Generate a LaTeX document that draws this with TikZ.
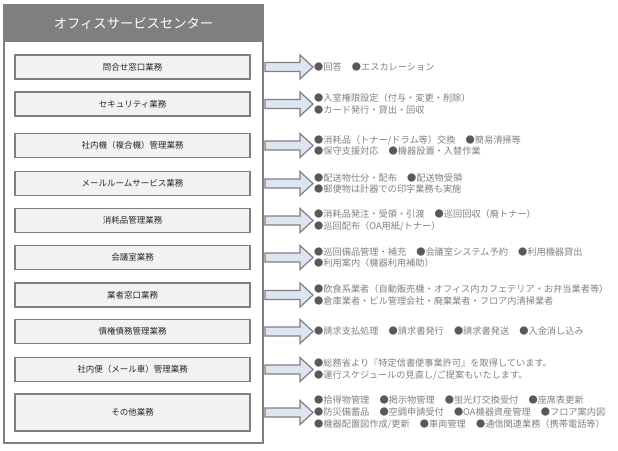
\documentclass[tikz,border=0pt]{standalone}
\usepackage{fontspec}
\setmainfont{Noto Sans CJK JP}

\definecolor{framegray}{HTML}{7F7F7F}
\definecolor{boxfill}{HTML}{F2F2F2}
\definecolor{arrowfill}{HTML}{DCE6F2}
\definecolor{textgray}{HTML}{808080}
\definecolor{dotgray}{HTML}{595959}
\newcommand{\bul}{{\color{dotgray}●}}
\newcommand{\gap}{\hspace{1.1em}}

\begin{document}
\begin{tikzpicture}[x=1pt, y=-1pt,
    task/.style={draw=framegray, line width=1.6pt, fill=boxfill, minimum width=235pt, minimum height=24pt, inner sep=0pt, font=\fontsize{8.5}{10}\selectfont, text=black!85},
    detail/.style={anchor=west, align=left, inner sep=0pt, font=\fontsize{9.2}{11.7}\selectfont, text=textgray},
    blockarrow/.style={draw=framegray, line width=1.2pt, fill=arrowfill}]
    \useasboundingbox (0,0) rectangle (618,450);

    \filldraw[draw=framegray, line width=1.5pt, fill=white] (4,5) rectangle (263,443);
    \fill[framegray] (4,5) rectangle (263,42);
    \node[text=white, font=\fontsize{13.3}{15}\selectfont] (title) at (133.5,23.5) {オフィスサービスセンター};

    \node[task] (b1) at (132.5,67) {問合せ窓口業務};
    \node[task] (b2) at (132.5,104) {セキュリティ業務};
    \node[task] (b3) at (132.5,145.5) {社内機（複合機）管理業務};
    \node[task] (b4) at (132.5,183.5) {メールルームサービス業務};
    \node[task] (b5) at (132.5,220.5) {消耗品管理業務};
    \node[task] (b6) at (132.5,257.5) {会議室業務};
    \node[task] (b7) at (132.5,295) {業者窓口業務};
    \node[task] (b8) at (132.5,331.5) {債権債務管理業務};
    \node[task] (b9) at (132.5,369.5) {社内便（メール車）管理業務};
    \node[task, minimum height=37pt] (b10) at (132.5,412.5) {その他業務};

    \node[detail] (d1) at (314,67) {\bul 回答\gap\bul エスカレーション};
    \node[detail] (d2) at (314,104) {\bul 入室権限設定（付与・変更・削除）\\\bul カード発行・貸出・回収};
    \node[detail] (d3) at (314,145.5) {\bul 消耗品（トナー/ドラム等）交換\gap\bul 簡易清掃等\\\bul 保守支援対応\gap\bul 機器設置・入替作業};
    \node[detail] (d4) at (314,183.5) {\bul 配送物仕分・配布\gap\bul 配送物受領\\\bul 郵便物は計器での印字業務も実施};
    \node[detail] (d5) at (314,220.5) {\bul 消耗品発注・受領・引渡\gap\bul 巡回回収（廃トナー）\\\bul 巡回配布（OA用紙/トナー）};
    \node[detail] (d6) at (314,257.5) {\bul 巡回備品管理・補充\gap\bul 会議室システム予約\gap\bul 利用機器貸出\\\bul 利用案内（機器利用補助）};
    \node[detail] (d7) at (314,295) {\bul 飲食系業者（自動販売機・オフィス内カフェテリア・お弁当業者等）\\\bul 倉庫業者・ビル管理会社・廃棄業者・フロア内清掃業者};
    \node[detail] (d8) at (314,331.5) {\bul 請求支払処理\gap\bul 請求書発行\gap\bul 請求書発送\gap\bul 入金消し込み};
    \node[detail] (d9) at (314,369.5) {\bul 総務省より『特定信書便事業許可』を取得しています。\\\bul 運行スケジュールの見直し/ご提案もいたします。};
    \node[detail] (d10) at (314,412.5) {\bul 拾得物管理\gap\bul 掲示物管理\gap\bul 蛍光灯交換受付\gap\bul 座席表更新\\\bul 防災備蓄品\gap\bul 空調申請受付\gap\bul OA機器資産管理\gap\bul フロア案内図\\\bul 機器配置図作成/更新\gap\bul 車両管理\gap\bul 通信関連業務（携帯電話等）};

    % block arrows
    \foreach \n in {1,...,10}
        \filldraw[blockarrow, shift={([xshift=-1pt]d\n.west)}] (-48,-4.5) -- (-13,-4.5) -- (-13,-12) -- (0,0) -- (-13,12) -- (-13,4.5) -- (-48,4.5) -- cycle;
\end{tikzpicture}
\end{document}
